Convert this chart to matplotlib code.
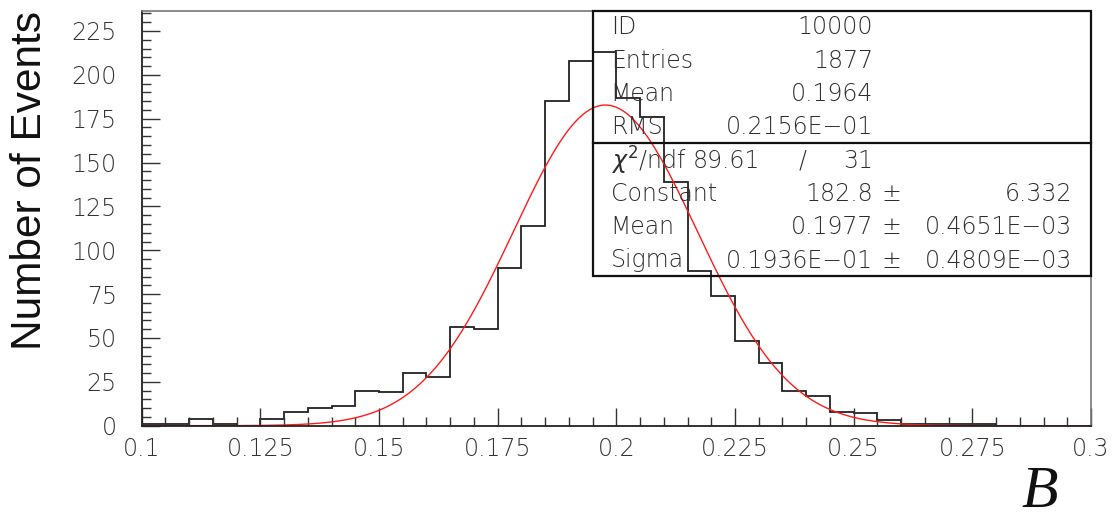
import numpy as np
import matplotlib
matplotlib.use("Agg")
import matplotlib.pyplot as plt
from matplotlib.ticker import MultipleLocator
from matplotlib.patches import Rectangle

# Histogram: 40 bins of width 0.005 between 0.1 and 0.3
x_min, x_max, n_bins = 0.1, 0.3, 40
counts = [1, 1, 4, 1, 0, 4, 8, 10, 11, 20, 19, 30, 28,
          56, 55, 90, 114, 185, 208, 213, 187, 176, 139, 88, 74, 48, 36,
          20, 17, 8, 7, 3, 1, 1, 1, 1, 0, 0, 0, 0]

# Gaussian fit parameters
fit_constant = 182.8
fit_mean = 0.1977
fit_sigma = 0.01936

# Statistics box contents
stat_labels = ["ID", "Entries", "Mean", "RMS"]
stat_values = ["10000", "1877", "0.1964", "0.2156E\u221201"]
chi2_value = "89.61"
ndf_value = "31"
fit_labels = ["Constant", "Mean", "Sigma"]
fit_values = ["182.8", "0.1977", "0.1936E\u221201"]
fit_errors = ["6.332", "0.4651E\u221203", "0.4809E\u221203"]

x_label = "B"
y_label = "Number of Events"

W, H = 1113, 519
fig = plt.figure(figsize=(W / 100, H / 100), dpi=100)
ax = fig.add_axes([141.7 / W, 1 - 425.7 / H, 949.3 / W, 414.7 / H])

edges = np.linspace(x_min, x_max, n_bins + 1)
ax.stairs(counts, edges, color="#222222", lw=1.3)

xs = np.linspace(x_min, x_max, 600)
ax.plot(xs, fit_constant * np.exp(-0.5 * ((xs - fit_mean) / fit_sigma) ** 2),
        color="#ff1a1a", lw=1.0)

ax.set_xlim(x_min, x_max)
ax.set_ylim(0, 236.4)

ax.xaxis.set_major_locator(MultipleLocator(0.025))
ax.xaxis.set_minor_locator(MultipleLocator(0.005))
ax.yaxis.set_major_locator(MultipleLocator(25))
ax.yaxis.set_minor_locator(MultipleLocator(5))
ax.xaxis.set_major_formatter(plt.FuncFormatter(lambda v, p: f"{v:.3f}".rstrip("0").rstrip(".")))
ax.yaxis.set_major_formatter(plt.FuncFormatter(lambda v, p: f"{v:.0f}"))

ax.tick_params(which="both", direction="in", top=False, right=False,
               color="#333333", width=1.0, labelcolor="#333333", labelsize=17)
ax.tick_params(which="major", length=13)
ax.tick_params(which="minor", length=6.5)
ax.tick_params(axis="y", pad=18)
ax.tick_params(axis="x", pad=8)
for lab in ax.get_xticklabels() + ax.get_yticklabels():
    lab.set_fontweight("light")

for side in ("left", "bottom"):
    ax.spines[side].set_color("#222222")
    ax.spines[side].set_linewidth(1.3)
for side in ("top", "right"):
    ax.spines[side].set_color("#777777")
    ax.spines[side].set_linewidth(1.2)


def fxy(px, py):
    return px / W, 1 - py / H


# Statistics box frame
bx0, _ = fxy(592.7, 0)
_, by_top = fxy(0, 11)
_, by_div = fxy(0, 143.3)
_, by_bot = fxy(0, 276.3)
bx1, _ = fxy(1091, 0)
fig.add_artist(Rectangle((bx0, by_bot), bx1 - bx0, by_top - by_bot,
                         transform=fig.transFigure, fill=False,
                         edgecolor="#111111", lw=1.6))
fig.add_artist(plt.Line2D([bx0, bx1], [by_div, by_div],
                          transform=fig.transFigure, color="#111111", lw=1.6))

txt = dict(fontsize=17, color="#2e2e2e", va="center", fontweight="light",
           family="DejaVu Sans")
label_x = 610.7
value_x = 873.3
pm_x = 891.7
err_x = 1072.3
row_y = [27.2, 60.5, 93.8, 127.2]
for lab, val, py in zip(stat_labels, stat_values, row_y):
    fig.text(*fxy(label_x, py), lab, ha="left", **txt)
    fig.text(*fxy(value_x, py), val, ha="right", **txt)

chi_y = 160.5
fig.text(*fxy(label_x, chi_y), r"$\chi^2$/ndf", ha="left", **txt)
fig.text(*fxy(692.7, chi_y), chi2_value, ha="left", **txt)
fig.text(*fxy(802.3, chi_y), "/", ha="center", **txt)
fig.text(*fxy(value_x, chi_y), ndf_value, ha="right", **txt)

fit_y = [193.8, 227.2, 260.5]
for lab, val, err, py in zip(fit_labels, fit_values, fit_errors, fit_y):
    fig.text(*fxy(label_x, py), lab, ha="left", **txt)
    fig.text(*fxy(value_x, py), val, ha="right", **txt)
    fig.text(*fxy(pm_x, py), "\u00b1", ha="center", **txt)
    fig.text(*fxy(err_x, py), err, ha="right", **txt)

# Axis titles
fig.text(*fxy(30, 180), y_label, rotation=90, ha="center", va="center",
         fontsize=30.5, family="Liberation Sans", color="#111111")
fig.text(*fxy(1040, 493), x_label, ha="center", va="center", fontsize=43,
         family="Liberation Serif", style="italic", color="#111111")

fig.savefig("out.png", dpi=100)
